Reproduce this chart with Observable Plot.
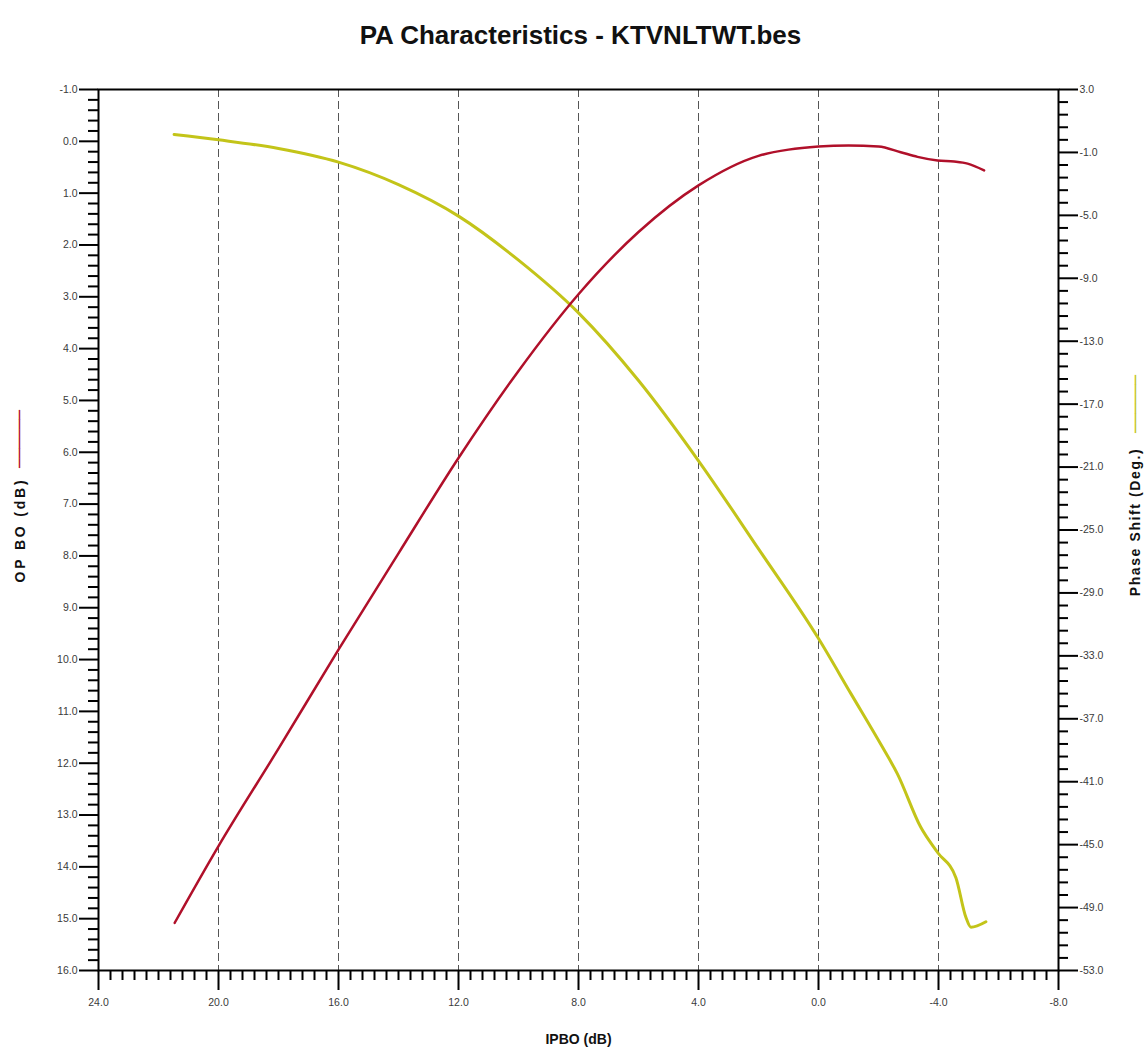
<!DOCTYPE html>
<html>
<head>
<meta charset="utf-8">
<script src="https://cdn.jsdelivr.net/npm/d3@7"></script>
<script src="https://cdn.jsdelivr.net/npm/@observablehq/plot@0.6"></script>
<style>
  body { margin: 0; background: #fff; font-family: "Liberation Sans", Arial, sans-serif; }
  #title { width: 1147px; height: 70px; line-height: 70px; text-align: center; font-weight: bold; font-size: 26px; padding-left: 14px; box-sizing: border-box; color: #111; }
</style>
</head>
<body>
<div id="title">PA Characteristics - KTVNLTWT.bes</div>
<div id="chart"></div>
<script>
// ---- Data ----
// OPBO (dB) vs IPBO (dB) — left axis
const ipboAmp = [21.46, 20, 18, 16, 14, 12, 10, 8, 6, 4, 2, 1, 0, -1, -2, -2.74, -3.3, -3.97, -4.52, -4.97, -5.52];
const opbo    = [15.08, 13.6, 11.72, 9.81, 7.95, 6.11, 4.43, 2.95, 1.75, 0.85, 0.28, 0.16, 0.1, 0.08, 0.1, 0.21, 0.30, 0.37, 0.39, 0.43, 0.56];
// Phase shift (Deg.) vs IPBO (dB) — right axis
const ipboPhase = [21.48, 20, 18, 16, 14, 12, 10, 8, 6, 4, 2, 0, -1.08, -2.13, -2.63, -3.41, -3.97, -4.58, -4.91, -5.08, -5.58];
const phase     = [0.14, -0.2, -0.75, -1.62, -3.05, -5.05, -7.85, -11.2, -15.5, -20.6, -26.2, -31.9, -35.4, -38.8, -40.5, -43.9, -45.5, -47.1, -49.6, -50.25, -49.9];

// Tick labels
const xTicks = [24, 20, 16, 12, 8, 4, 0, -4, -8];
const xGrid = [20, 16, 12, 8, 4, 0, -4];
const leftTicks = [-1, 0, 1, 2, 3, 4, 5, 6, 7, 8, 9, 10, 11, 12, 13, 14, 15, 16];
const rightTicks = [3, -1, -5, -9, -13, -17, -21, -25, -29, -33, -37, -41, -45, -49, -53];

// Axis ranges
const xDomain = [24, -8];
const leftDomain = [-1, 16];
const rightDomain = [3, -53];

// ---- Helpers ----
const toLeft = d => leftDomain[0] + (rightDomain[0] - d) * (leftDomain[1] - leftDomain[0]) / (rightDomain[0] - rightDomain[1]);
const fromLeft = p => rightDomain[0] - (p - leftDomain[0]) * (rightDomain[0] - rightDomain[1]) / (leftDomain[1] - leftDomain[0]);
const fmt = v => { const s = (Math.round(v * 10) / 10).toFixed(1); return s === "-0.0" ? "0.0" : s; };

const xMinor = d3.range(0, 81).filter(k => k % 10 !== 0).map(k => 24 - 0.4 * k);
const leftMinor = d3.range(0, 86).filter(k => k % 5 !== 0).map(k => -1 + 0.2 * k);
const rightMinor = d3.range(0, 71).filter(k => k % 5 !== 0).map(k => toLeft(3 - 0.8 * k));
const rightMajorPos = rightTicks.map(toLeft);

const ampData = ipboAmp.map((x, i) => ({x, y: opbo[i]}));
const phaseData = ipboPhase.map((x, i) => ({x, y: toLeft(phase[i])}));

const red = "#b0102a";
const yellow = "#c3c419";
const labelLeft = "OP BO (dB)";
const labelRight = "Phase Shift (Deg.)";

const chart = Plot.plot({
  width: 1147,
  height: 979,
  marginTop: 19,
  marginBottom: 79,
  marginLeft: 98,
  marginRight: 89,
  style: { fontFamily: "Liberation Sans, Arial, sans-serif", fontSize: "10.5px", background: "white", color: "#000" },
  x: { domain: xDomain, axis: null },
  y: { domain: leftDomain, reverse: true, axis: null },
  marks: [
    Plot.gridX(xGrid, { stroke: "#555", strokeOpacity: 1, strokeWidth: 1, strokeDasharray: "8,4" }),
    // x axis
    Plot.axisX(xMinor, { anchor: "bottom", tickSize: 10, stroke: "#000", strokeWidth: 2, fill: "none", label: null }),
    Plot.axisX(xTicks, { anchor: "bottom", tickSize: 20, tickPadding: 8, stroke: "#000", strokeWidth: 2, fill: "#3a3a3a", tickFormat: fmt, label: null }),
    // left axis
    Plot.axisY(leftMinor, { anchor: "left", tickSize: 10, stroke: "#000", strokeWidth: 2, fill: "none", label: null }),
    Plot.axisY(leftTicks, { anchor: "left", tickSize: 19, tickPadding: 2, stroke: "#000", strokeWidth: 2, fill: "#3a3a3a", tickFormat: fmt, label: null }),
    // right axis (phase)
    Plot.axisY(rightMinor, { anchor: "right", tickSize: 9, stroke: "#000", strokeWidth: 2, fill: "none", label: null }),
    Plot.axisY(rightMajorPos, { anchor: "right", tickSize: 19, tickPadding: 2, stroke: "#000", strokeWidth: 2, fill: "#3a3a3a", tickFormat: p => fmt(fromLeft(p)), label: null }),
    Plot.frame({ stroke: "#000", strokeWidth: 2 }),
    // curves
    Plot.line(phaseData, { x: "x", y: "y", stroke: yellow, strokeWidth: 3, curve: "monotone-x" }),
    Plot.line(ampData, { x: "x", y: "y", stroke: red, strokeWidth: 2.5, curve: "monotone-x" }),
    // axis titles
    Plot.text(["IPBO (dB)"], { frameAnchor: "bottom", dy: 69, fontWeight: "bold", fontSize: 14, textAnchor: "middle", lineAnchor: "middle", fill: "#111" }),
    Plot.text([labelLeft], { frameAnchor: "left", dx: -78, dy: 0, rotate: -90, fontWeight: "bold", fontSize: 14, textAnchor: "middle", lineAnchor: "middle", fill: "#111" }),
    Plot.text(["──────"], { frameAnchor: "left", dx: -79, dy: -91, rotate: -90, fontFamily: "DejaVu Sans Mono", fontSize: 16, textAnchor: "middle", lineAnchor: "middle", fill: red }),
    Plot.text([labelRight], { frameAnchor: "right", dx: 77, dy: -8, rotate: -90, fontWeight: "bold", fontSize: 14, textAnchor: "middle", lineAnchor: "middle", fill: "#111" }),
    Plot.text(["──────"], { frameAnchor: "right", dx: 77, dy: -126, rotate: -90, fontFamily: "DejaVu Sans Mono", fontSize: 16, textAnchor: "middle", lineAnchor: "middle", fill: yellow })
  ]
});
d3.select(chart).selectAll("text").each(function() {
  const t = this.textContent;
  if (t === labelLeft) d3.select(this).style("letter-spacing", "2.8px");
  if (t === labelRight) d3.select(this).style("letter-spacing", "1.6px");
});
document.getElementById("chart").appendChild(chart);
</script>
</body>
</html>
